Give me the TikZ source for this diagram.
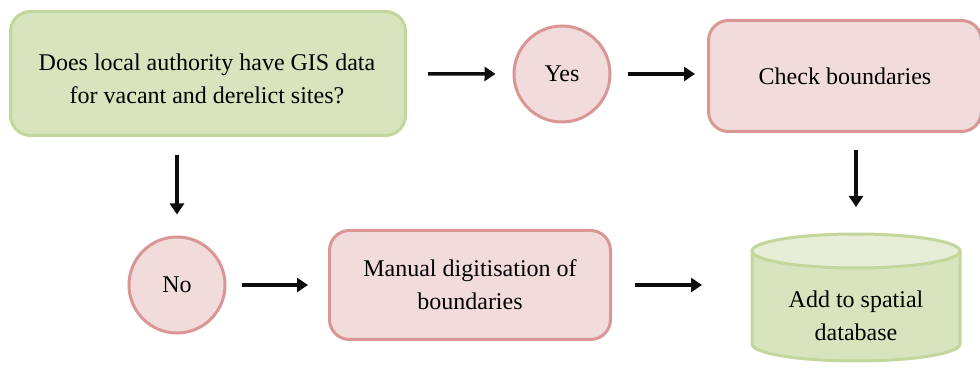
\documentclass[tikz,border=0pt]{standalone}
\usepackage{fontspec}
\setmainfont{Liberation Serif}
\newfontfamily\tnr{Liberation Serif}
\usetikzlibrary{arrows.meta}
\definecolor{gfill}{HTML}{D7E4BD}
\definecolor{gline}{HTML}{C3D69B}
\definecolor{gtop}{HTML}{E6EED7}
\definecolor{pfill}{HTML}{F2DCDB}
\definecolor{pline}{HTML}{D99694}
\begin{document}
\begin{tikzpicture}[x=1pt,y=1pt,
 txt/.style={font=\tnr\fontsize{24}{33}\selectfont, align=center, text=black},
 gbox/.style={txt, draw=gline, fill=gfill, line width=3pt, rounded corners=20pt},
 pbox/.style={txt, draw=pline, fill=pfill, line width=3pt, rounded corners=20pt},
 pcirc/.style={txt, circle, draw=pline, fill=pfill, line width=3pt, minimum size=96pt, inner sep=0pt},
 cylline/.style={draw=gline, line width=3pt},
 arr/.style={-{Triangle[length=11pt,width=14pt]}, line width=3.4pt, black!95}
]
\useasboundingbox (0,0) rectangle (980,-371);

\node[gbox, minimum width=395pt, minimum height=124pt] (q) at (208,-73.5) {};
\node[txt] (qt) at (207,-79) {Does local authority have GIS data\\for vacant and derelict sites?};
\node[pcirc] (yes) at (562,-74) {Yes};
\node[pbox, minimum width=273pt, minimum height=111pt] (check) at (845,-76) {Check boundaries};
\node[pcirc] (no) at (177,-285) {No};
\node[pbox, minimum width=281pt, minimum height=109pt] (manual) at (470,-285) {Manual digitisation of\\boundaries};

% cylinder
\fill[gfill] (752,-251) -- (752,-344) arc[start angle=180,end angle=360,x radius=104pt,y radius=17pt] -- (960,-251) -- cycle;
\draw[cylline] (752,-251) -- (752,-344) arc[start angle=180,end angle=360,x radius=104pt,y radius=17pt] -- (960,-251);
\draw[cylline, fill=gtop] (856,-251) ellipse [x radius=104pt, y radius=17pt];
\node[txt] (db) at (856,-316) {Add to spatial\\database};
\coordinate (dbtop) at (856,-233);
\coordinate (dbleft) at (750,-285);

% connectors
\draw[arr, shorten <=21pt, shorten >=17pt] (q) -- (yes);
\draw[arr, shorten <=16pt, shorten >=12pt] (yes.east) -- (yes.east -| check.west);
\draw[arr, shorten <=17pt, shorten >=26pt] (dbtop |- check.south) -- (dbtop);
\draw[arr, shorten <=18pt, shorten >=21pt] (no |- q.south) -- (no.north);
\draw[arr, shorten <=15pt, shorten >=20pt] (no) -- (manual);
\draw[arr, shorten <=23pt, shorten >=48pt] (manual.east) -- (dbleft);
\end{tikzpicture}
\end{document}
